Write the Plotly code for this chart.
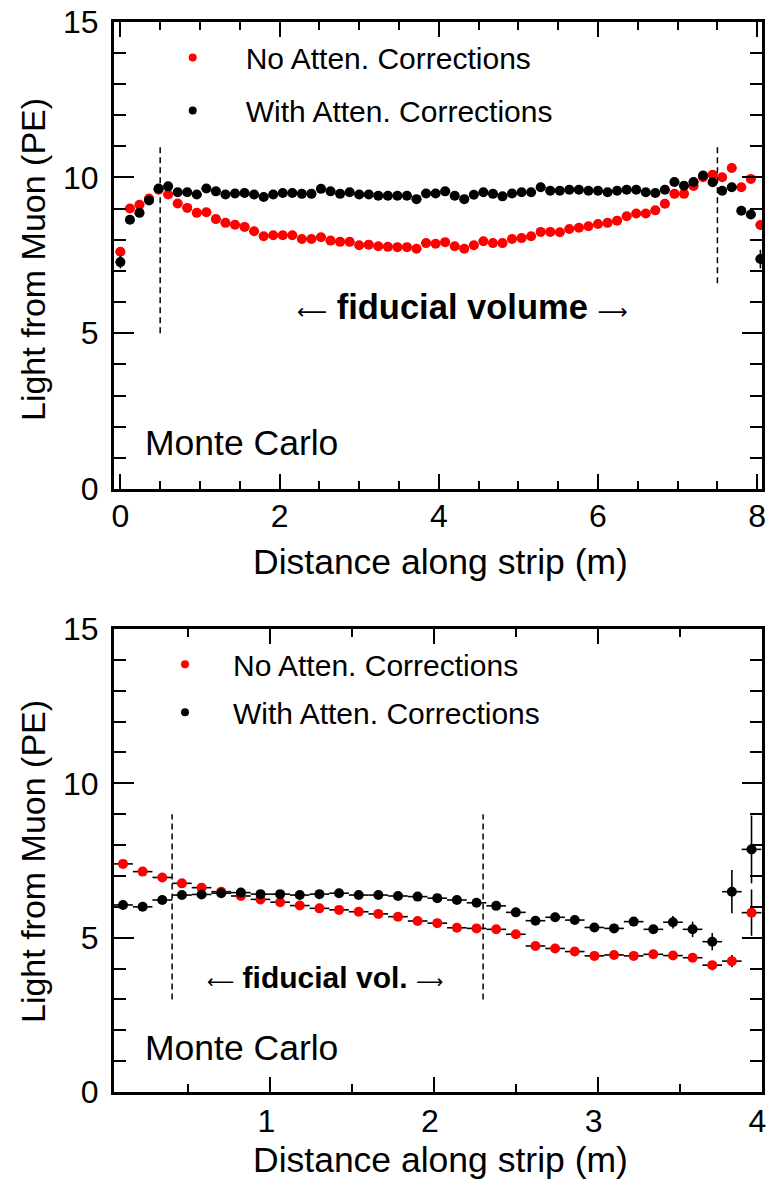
import plotly.graph_objects as go

W, H = 768, 1186
FONT = "Liberation Sans, Arial, sans-serif"

# ---------------- top panel (8 m strip) ----------------
top_x = [0.00, 0.12, 0.24, 0.36, 0.48, 0.60, 0.72, 0.84, 0.96, 1.08,
         1.20, 1.32, 1.44, 1.56, 1.68, 1.80, 1.92, 2.04, 2.16, 2.28,
         2.40, 2.52, 2.64, 2.76, 2.88, 3.00, 3.12, 3.24, 3.36, 3.48,
         3.60, 3.72, 3.84, 3.96, 4.08, 4.20, 4.32, 4.44, 4.56, 4.68,
         4.80, 4.92, 5.04, 5.16, 5.28, 5.40, 5.52, 5.64, 5.76, 5.88,
         6.00, 6.12, 6.24, 6.36, 6.48, 6.60, 6.72, 6.84, 6.96, 7.08,
         7.20, 7.32, 7.44, 7.56, 7.68, 7.80, 7.92, 8.04]
top_no_corr = [7.61, 9.00, 9.12, 9.32, 9.60, 9.45, 9.16, 9.02, 8.86, 8.88,
               8.66, 8.54, 8.48, 8.41, 8.27, 8.11, 8.14, 8.14, 8.14, 8.02,
               8.02, 8.08, 7.97, 7.93, 7.93, 7.82, 7.84, 7.79, 7.77, 7.76,
               7.76, 7.71, 7.89, 7.87, 7.92, 7.79, 7.71, 7.82, 7.95, 7.89,
               7.89, 8.02, 8.05, 8.11, 8.25, 8.25, 8.24, 8.34, 8.38, 8.43,
               8.50, 8.54, 8.61, 8.75, 8.84, 8.84, 8.94, 9.15, 9.47, 9.47,
               9.72, 10.00, 10.08, 10.00, 10.30, 9.68, 9.95, 8.47]
top_with_corr = [7.28, 8.64, 8.86, 9.26, 9.64, 9.71, 9.52, 9.52, 9.45, 9.64,
                 9.55, 9.45, 9.48, 9.50, 9.45, 9.37, 9.45, 9.50, 9.50, 9.47,
                 9.47, 9.63, 9.55, 9.47, 9.52, 9.45, 9.45, 9.41, 9.41, 9.41,
                 9.41, 9.30, 9.48, 9.48, 9.55, 9.41, 9.30, 9.44, 9.52, 9.47,
                 9.39, 9.48, 9.52, 9.52, 9.68, 9.57, 9.57, 9.60, 9.60, 9.57,
                 9.57, 9.52, 9.57, 9.60, 9.60, 9.52, 9.50, 9.60, 9.85, 9.73,
                 9.85, 10.06, 9.84, 9.57, 9.68, 8.93, 8.81, 7.38]
top_no_corr_err = [0.15, 0.06, 0.05, 0.05, 0.05, 0.05, 0.05, 0.05, 0.05, 0.05,
                   0.05, 0.05, 0.05, 0.05, 0.05, 0.05, 0.05, 0.05, 0.05, 0.05,
                   0.05, 0.05, 0.05, 0.05, 0.05, 0.05, 0.05, 0.05, 0.05, 0.05,
                   0.05, 0.05, 0.05, 0.05, 0.05, 0.05, 0.05, 0.05, 0.05, 0.05,
                   0.05, 0.05, 0.05, 0.05, 0.05, 0.05, 0.05, 0.05, 0.05, 0.05,
                   0.05, 0.05, 0.05, 0.05, 0.05, 0.05, 0.05, 0.05, 0.05, 0.05,
                   0.05, 0.05, 0.05, 0.05, 0.06, 0.06, 0.08, 0.15]
top_with_corr_err = [0.20, 0.08, 0.05, 0.05, 0.05, 0.05, 0.05, 0.05, 0.05, 0.05,
                     0.05, 0.05, 0.05, 0.05, 0.05, 0.05, 0.05, 0.05, 0.05, 0.05,
                     0.05, 0.05, 0.05, 0.05, 0.05, 0.05, 0.05, 0.05, 0.05, 0.05,
                     0.05, 0.05, 0.05, 0.05, 0.05, 0.05, 0.05, 0.05, 0.05, 0.05,
                     0.05, 0.05, 0.05, 0.05, 0.05, 0.05, 0.05, 0.05, 0.05, 0.05,
                     0.05, 0.05, 0.05, 0.05, 0.05, 0.05, 0.05, 0.05, 0.05, 0.05,
                     0.05, 0.05, 0.05, 0.05, 0.06, 0.08, 0.10, 0.30]
top_fiducial = [0.5, 7.5]
top_fiducial_span = [[5.0, 11.0], [6.6, 11.0]]

# ---------------- bottom panel (4 m strip) ----------------
bot_x = [0.10, 0.22, 0.34, 0.46, 0.58, 0.70, 0.82, 0.94, 1.06, 1.18,
         1.30, 1.42, 1.54, 1.66, 1.78, 1.90, 2.02, 2.14, 2.26, 2.38,
         2.50, 2.62, 2.74, 2.86, 2.98, 3.10, 3.22, 3.34, 3.46, 3.58,
         3.70, 3.82, 3.94]
bot_no_corr = [7.39, 7.14, 6.95, 6.76, 6.62, 6.49, 6.35, 6.24, 6.15, 6.04,
               5.95, 5.90, 5.84, 5.77, 5.68, 5.54, 5.47, 5.32, 5.30, 5.27,
               5.11, 4.73, 4.65, 4.55, 4.41, 4.44, 4.41, 4.46, 4.42, 4.35,
               4.11, 4.24, 5.81]
bot_with_corr = [6.06, 6.00, 6.22, 6.38, 6.40, 6.44, 6.46, 6.41, 6.41, 6.38,
                 6.41, 6.44, 6.38, 6.38, 6.35, 6.33, 6.28, 6.22, 6.13, 6.03,
                 5.82, 5.55, 5.66, 5.57, 5.33, 5.30, 5.52, 5.27, 5.50, 5.27,
                 4.87, 6.49, 7.86]
bot_no_corr_err = [0.06, 0.06, 0.06, 0.06, 0.06, 0.06, 0.06, 0.06, 0.06, 0.06,
                   0.06, 0.06, 0.06, 0.06, 0.06, 0.06, 0.06, 0.06, 0.06, 0.06,
                   0.06, 0.06, 0.06, 0.06, 0.06, 0.06, 0.06, 0.07, 0.07, 0.08,
                   0.10, 0.20, 0.75]
bot_with_corr_err = [0.06, 0.06, 0.06, 0.06, 0.06, 0.06, 0.06, 0.06, 0.06, 0.06,
                     0.06, 0.06, 0.06, 0.06, 0.06, 0.06, 0.06, 0.06, 0.06, 0.06,
                     0.06, 0.06, 0.06, 0.07, 0.08, 0.08, 0.10, 0.12, 0.20, 0.25,
                     0.28, 0.70, 1.10]
bot_fiducial = [0.4, 2.3]
bot_fiducial_span = [[3.0, 9.0], [3.0, 9.0]]

series_names = ["No Atten. Corrections", "With Atten. Corrections"]
series_colors = ["#ff0000", "#000000"]
half_bin = 0.06

# ---------------- layout geometry (pixels) ----------------
def px_x(p):
    return p / W

def px_y(p):
    return 1 - p / H

fig = go.Figure()

panels = [
    dict(xa="x", ya="y", x=top_x, ys=[top_no_corr, top_with_corr],
         errs=[top_no_corr_err, top_with_corr_err], legend="legend"),
    dict(xa="x2", ya="y2", x=bot_x, ys=[bot_no_corr, bot_with_corr],
         errs=[bot_no_corr_err, bot_with_corr_err], legend="legend2"),
]

for p in panels:
    for name, color, yv, ev in zip(series_names, series_colors, p["ys"], p["errs"]):
        fig.add_trace(go.Scatter(
            x=p["x"], y=yv, xaxis=p["xa"], yaxis=p["ya"], mode="markers",
            marker=dict(color=color, size=10, line=dict(width=0)),
            error_x=dict(type="constant", value=half_bin, color="black", thickness=1.6, width=0),
            error_y=dict(type="data", array=ev, color="black", thickness=1.6, width=0),
            showlegend=False, hoverinfo="skip"))
    for i, (name, color) in enumerate(zip(series_names, series_colors)):
        fig.add_trace(go.Scatter(
            x=[None], y=[None], xaxis=p["xa"], yaxis=p["ya"], mode="markers",
            marker=dict(color=color, size=8), name=name, legend=p["legend"],
            legendgroup=p["legend"] + str(i), showlegend=True))

axis_common = dict(
    showline=True, linewidth=3, linecolor="black", mirror="allticks",
    ticks="inside", tickwidth=2, tickcolor="black",
    showgrid=False, zeroline=False, automargin=False,
    ticklabeloverflow="allow",
    tickfont=dict(family=FONT, size=32, color="black"),
)
x_minor = dict(ticks="inside", ticklen=8, tickwidth=2, tickcolor="black")
y_minor = dict(ticks="inside", ticklen=12, tickwidth=2, tickcolor="black")

fig.update_layout(
    template="none",
    width=W, height=H, autosize=False,
    margin=dict(l=0, r=0, t=0, b=0, pad=0),
    paper_bgcolor="white", plot_bgcolor="white",
    font=dict(family=FONT, color="black"),
    xaxis=dict(domain=[px_x(114), px_x(762)], anchor="y", range=[-0.08, 8.06],
               tick0=0, dtick=2, ticklen=15, ticklabelstandoff=-3,
               minor=dict(dtick=0.5, **x_minor), **axis_common),
    yaxis=dict(domain=[px_y(489), px_y(21.5)], anchor="x", range=[0, 15],
               tick0=0, dtick=5, ticklen=20, ticklabelstandoff=6,
               minor=dict(dtick=1, **y_minor), **axis_common),
    xaxis2=dict(domain=[px_x(114), px_x(762)], anchor="y2", range=[0.045, 4.004],
                tick0=0, dtick=1, ticklen=15, ticklabelstandoff=-1, ticklabelshift=-4,
                minor=dict(dtick=0.5, **x_minor), **axis_common),
    yaxis2=dict(domain=[px_y(1092), px_y(629)], anchor="x2", range=[0, 15],
                tick0=0, dtick=5, ticklen=20, ticklabelstandoff=6,
                minor=dict(dtick=1, **y_minor), **axis_common),
    legend=dict(x=px_x(139.7), xanchor="left", y=px_y(31.6), yanchor="top",
                font=dict(family=FONT, size=30, color="black"),
                itemwidth=96, tracegroupgap=11, traceorder="grouped",
                bgcolor="rgba(0,0,0,0)", borderwidth=0),
    legend2=dict(x=px_x(137), xanchor="left", y=px_y(638.2), yanchor="top",
                 font=dict(family=FONT, size=30, color="black"),
                 itemwidth=86, tracegroupgap=6, traceorder="grouped",
                 bgcolor="rgba(0,0,0,0)", borderwidth=0),
)

# fiducial boundaries
for xa, ya, xs, spans in [("x", "y", top_fiducial, top_fiducial_span),
                          ("x2", "y2", bot_fiducial, bot_fiducial_span)]:
    for xv, (y0, y1) in zip(xs, spans):
        fig.add_shape(type="line", xref=xa, yref=ya, x0=xv, x1=xv, y0=y0, y1=y1,
                      line=dict(color="black", width=1.5, dash="6px,4px"))

def arrow(ch, size):
    return ('<span style="font-family:DejaVu Sans;font-weight:normal;font-size:%dpx">%s</span>'
            % (size, ch))

ann = []
# axis titles
for yc, xc_t in [(260, 562), (862, 1160)]:
    ann.append(dict(text="Light from Muon (PE)", xref="paper", yref="paper",
                    x=px_x(33), y=px_y(yc), textangle=-90, showarrow=False,
                    xanchor="center", yanchor="middle",
                    font=dict(family=FONT, size=34, color="black")))
    ann.append(dict(text="Distance along strip (m)", xref="paper", yref="paper",
                    x=px_x(440), y=px_y(xc_t), showarrow=False,
                    xanchor="center", yanchor="middle",
                    font=dict(family=FONT, size=35.5, color="black")))
# Monte Carlo labels
ann.append(dict(text="Monte Carlo", xref="x", yref="y", x=0.28, y=1.49, showarrow=False,
                xanchor="left", yanchor="middle", font=dict(family=FONT, size=35.5, color="black")))
ann.append(dict(text="Monte Carlo", xref="x2", yref="y2", x=0.22, y=1.43, showarrow=False,
                xanchor="left", yanchor="middle", font=dict(family=FONT, size=35.5, color="black")))
# fiducial labels
ann.append(dict(text=arrow("\u27f5", 21) + " <b>fiducial volume</b> " + arrow("\u27f6", 21),
                xref="x", yref="y", x=4.30, y=5.84, showarrow=False,
                xanchor="center", yanchor="middle",
                font=dict(family=FONT, size=34.5, color="black")))
ann.append(dict(text=arrow("\u27f5", 19) + " <b>fiducial vol.</b> " + arrow("\u27f6", 19),
                xref="x2", yref="y2", x=1.337, y=3.72, showarrow=False,
                xanchor="center", yanchor="middle",
                font=dict(family=FONT, size=30, color="black")))
fig.update_layout(annotations=ann)

fig.write_html("out.html")
